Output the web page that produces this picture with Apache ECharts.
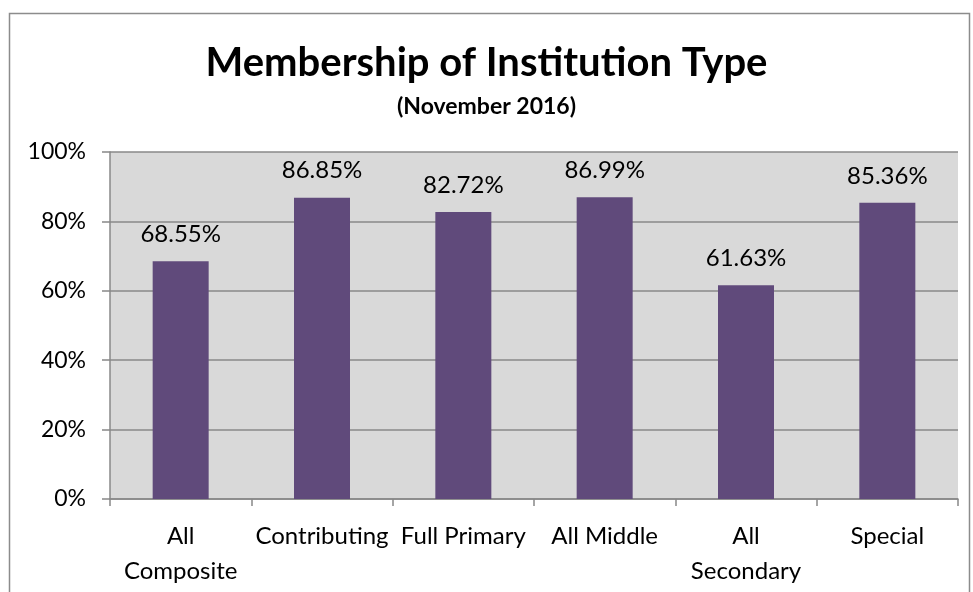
<!DOCTYPE html>
<html><head><meta charset="utf-8">
<script src="https://cdn.jsdelivr.net/npm/echarts@6/dist/echarts.min.js"></script>
<style>html,body{margin:0;padding:0;background:#fff}#c{width:973px;height:592px}</style>
</head><body><div id="c"></div>
<script>
var categories = ['All\nComposite', 'Contributing', 'Full Primary', 'All Middle', 'All\nSecondary', 'Special'];
var values = [68.55, 86.85, 82.72, 86.99, 61.63, 85.36];
var yTicks = [0, 20, 40, 60, 80, 100];
var FONT = 'Lato';
var chart = echarts.init(document.getElementById('c'));
chart.setOption({
  animation: false,
  backgroundColor: '#fff',
  title: {
    text: 'Membership of Institution Type',
    subtext: '(November 2016)',
    left: 'center', top: 38, itemGap: 12,
    textStyle: {fontFamily: FONT, fontSize: 40, fontWeight: 'bold', color: '#000'},
    subtextStyle: {fontFamily: FONT, fontSize: 23, fontWeight: 'bold', color: '#000'}
  },
  graphic: [{type: 'rect', shape: {x: 9.5, y: 13.5, width: 960, height: 600}, style: {fill: 'none', stroke: '#8c8c8c', lineWidth: 1.5}, z: 100}],
  grid: {left: 110, right: 15, top: 152, bottom: 93, show: true, backgroundColor: '#d9d9d9', borderWidth: 0},
  xAxis: {
    type: 'category', data: categories,
    axisLine: {show: true, lineStyle: {color: '#888', width: 1.5}},
    axisTick: {show: true, length: 7, lineStyle: {color: '#888', width: 1.5}},
    axisLabel: {fontFamily: FONT, fontSize: 24, color: '#000', margin: 20, lineHeight: 35, interval: 0}
  },
  yAxis: {
    type: 'value', min: 0, max: 100, interval: 20,
    axisLine: {show: true, lineStyle: {color: '#888', width: 1.5}},
    axisTick: {show: true, length: 8, lineStyle: {color: '#888', width: 1.5}},
    splitLine: {show: true, lineStyle: {color: '#888', width: 1.5}},
    axisLabel: {fontFamily: FONT, fontSize: 23, color: '#000', margin: 24,
      formatter: function (v) { return yTicks.indexOf(v) >= 0 ? v + '%' : ''; }}
  },
  series: [{
    type: 'bar', data: values, barWidth: 56,
    itemStyle: {color: '#604a7b'},
    label: {show: true, position: 'top', distance: 15, fontFamily: FONT, fontSize: 24, color: '#000',
      formatter: function (p) { return p.value.toFixed(2) + '%'; }}
  }]
});
</script></body></html>
